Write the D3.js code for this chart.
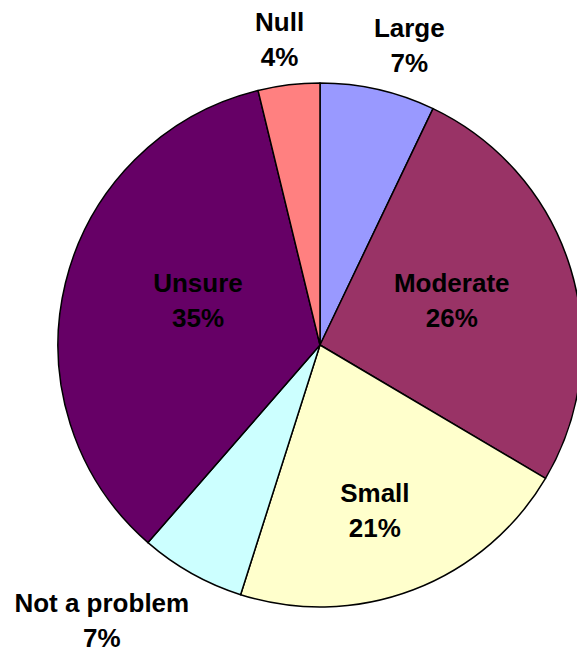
<!DOCTYPE html>
<html>
<head>
<meta charset="utf-8">
<script src="https://cdn.jsdelivr.net/npm/d3@7"></script>
<style>
  html, body { margin: 0; padding: 0; background: #ffffff; overflow: hidden; }
  svg { display: block; }
  text { font-family: Arial, "Liberation Sans", sans-serif; font-weight: bold; fill: #000; }
</style>
</head>
<body>
<svg id="chart" width="577" height="654"></svg>
<script>
// ---- data ----
const categories = ["Large", "Moderate", "Small", "Not a problem", "Unsure", "Null"];
const values = [7.1, 26.4, 21.4, 6.5, 34.8, 3.8];
const colors = ["#9999FF", "#993366", "#FFFFCC", "#CCFFFF", "#660066", "#FF8080"];

// ---- layout (label placement relative to each slice's mid-angle) ----
const labelRadius = [313, 139, 174, 351, 130, 308];
const labelAngleShift = [3.8, -1.7, 2.5, 9.1, 6.5, -0.7]; // degrees

const W = 577, H = 654;
const cx = 320, cy = 345, R = 262;

const svg = d3.select("#chart");
const g = svg.append("g").attr("transform", `translate(${cx},${cy})`);

const pie = d3.pie().sort(null).value(d => d.v).startAngle(0).endAngle(2 * Math.PI);
const data = categories.map((c, i) => ({ c, v: values[i], col: colors[i], i }));
const arcs = pie(data);
const total = d3.sum(values);

const arc = d3.arc().innerRadius(0).outerRadius(R);

g.selectAll("path.slice")
  .data(arcs)
  .enter().append("path")
  .attr("class", "slice")
  .attr("d", arc)
  .attr("fill", d => d.data.col)
  .attr("stroke", "#000")
  .attr("stroke-width", 1.5)
  .attr("stroke-linejoin", "round");

const fs = 26, lineGap = 35;
const labels = g.selectAll("g.lab")
  .data(arcs)
  .enter().append("g")
  .attr("class", "lab")
  .attr("transform", d => {
    const i = d.data.i;
    const a = (d.startAngle + d.endAngle) / 2 + labelAngleShift[i] * Math.PI / 180;
    const r = labelRadius[i];
    return `translate(${r * Math.sin(a)},${-r * Math.cos(a)})`;
  });

labels.append("text")
  .attr("text-anchor", "middle")
  .attr("font-size", fs)
  .attr("y", -lineGap / 2 + fs * 0.358)
  .text(d => d.data.c);

labels.append("text")
  .attr("text-anchor", "middle")
  .attr("font-size", fs)
  .attr("y", lineGap / 2 + fs * 0.358)
  .text(d => Math.round(d.data.v / total * 100) + "%");
</script>
</body>
</html>
